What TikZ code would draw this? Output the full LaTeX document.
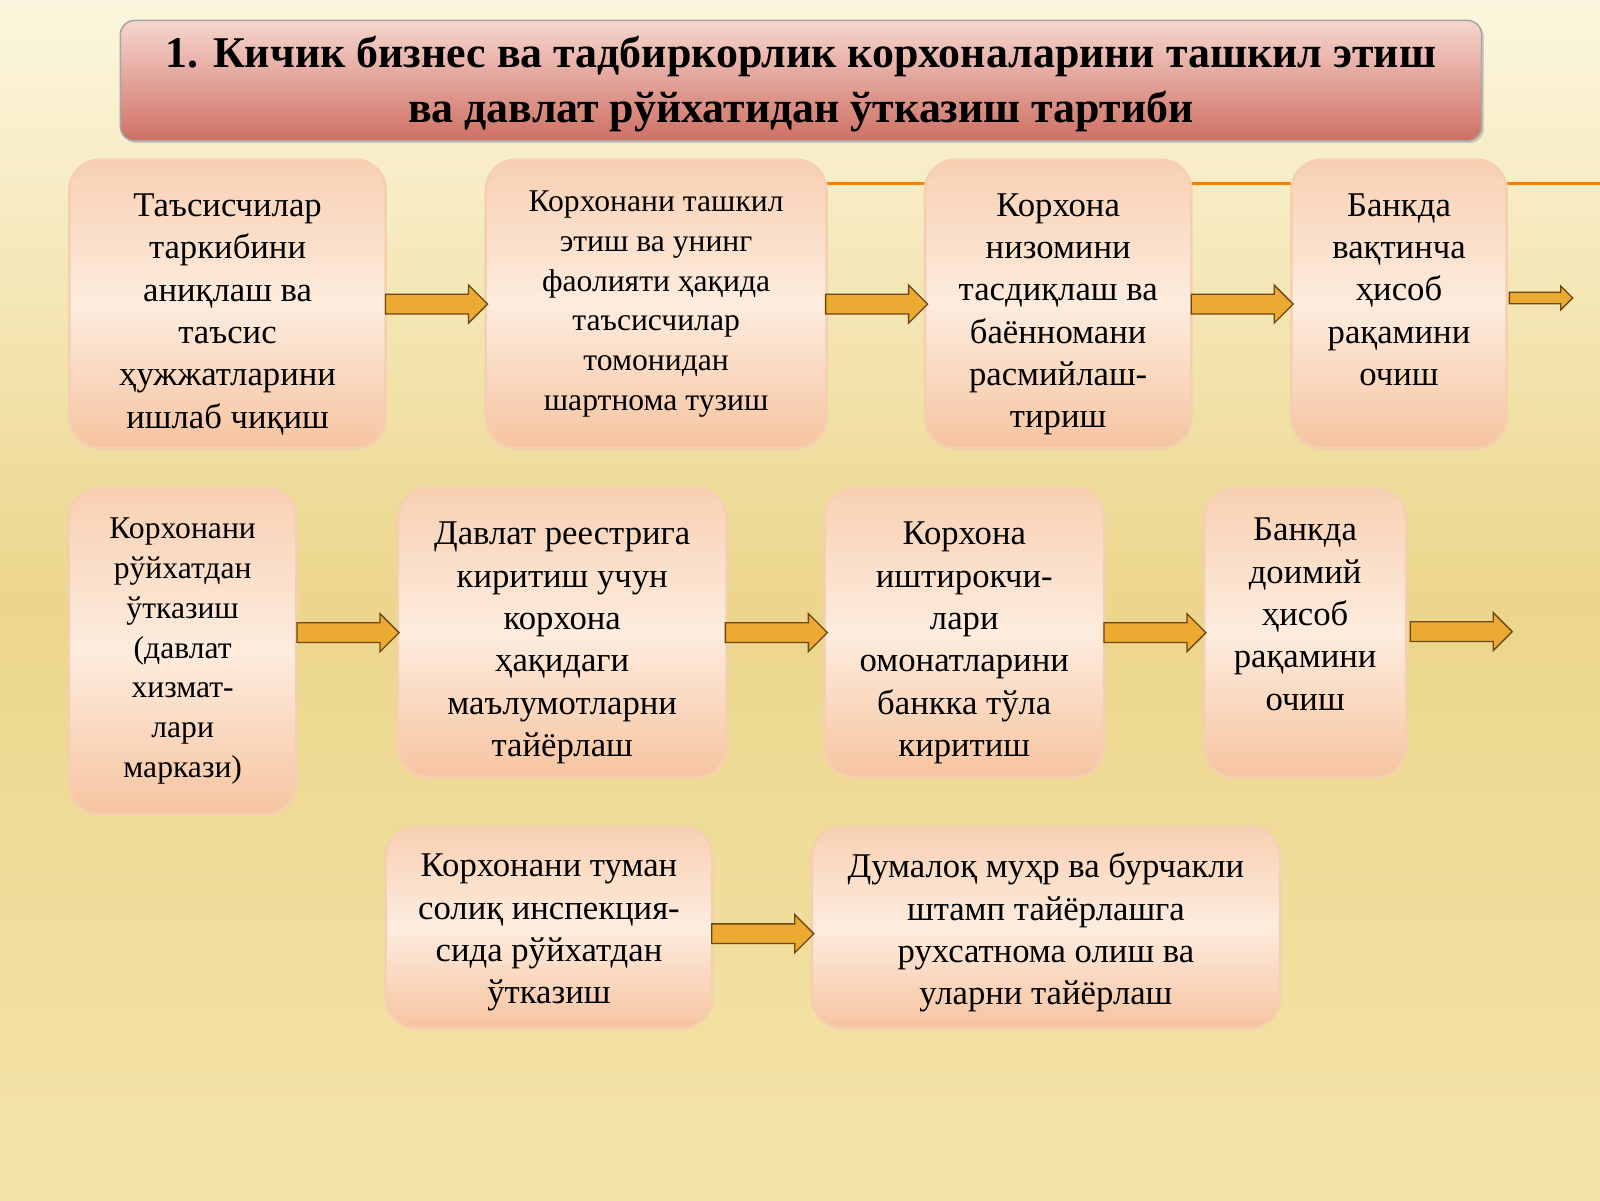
\documentclass[tikz,border=0pt]{standalone}
\usepackage{fontspec}
\setmainfont{Liberation Serif}
\usetikzlibrary{shapes.arrows,calc,shadows}
\definecolor{bgA}{RGB}{252,246,222}
\definecolor{bgB}{RGB}{236,214,140}
\definecolor{bgC}{RGB}{244,228,170}
\definecolor{bxA}{RGB}{253,236,222}
\definecolor{bxB}{RGB}{246,196,160}
\definecolor{bxE}{RGB}{244,208,176}
\definecolor{tA}{RGB}{246,214,206}
\definecolor{tB}{RGB}{206,112,100}
\definecolor{arF}{RGB}{236,170,50}
\definecolor{arD}{RGB}{110,70,20}
\begin{document}
\begin{tikzpicture}[x=1pt,y=-1pt,
 box/.style={draw=bxE, line width=2.5pt, rounded corners=30pt, top color=bxB!70!bxA, bottom color=bxB, middle color=bxA, inner sep=0pt},
 txt/.style={align=center, font=\fontsize{34}{41.5}\selectfont, inner sep=0pt},
 stxt/.style={txt, font=\fontsize{31}{39}\selectfont},
 arr/.style={single arrow, draw=arD, fill=arF, line width=1.3pt, inner xsep=0pt, inner ysep=9pt, single arrow head extend=9pt, minimum height=100pt, anchor=center}]
\useasboundingbox (0,0) rectangle (1568,1176);
\shade[top color=bgA, bottom color=bgC, middle color=bgB] (0,0) rectangle (1568,1176);
\draw[orange, line width=2.5pt] (810,180) -- (1568,180);
% title
\node[draw=black!35, line width=1.5pt, rounded corners=14pt, top color=tA, bottom color=tB, minimum width=1334pt, minimum height=118pt, drop shadow={opacity=0.3}] (t) at (785,79) {};
\node[txt, font=\bfseries\fontsize{43}{54}\selectfont] at ($(t)+(0,3)$) {1. Кичик бизнес ва тадбиркорлик корхоналарини ташкил этиш\\ва давлат рўйхатидан ўтказиш тартиби};
% row 1
\node[box, minimum width=310pt, minimum height=283pt] (b1) at (223,298) {};
\node[txt] at ($(b1)+(0,10)$) {Таъсисчилар\\таркибини\\аниқлаш ва\\таъсис\\ҳужжатларини\\ишлаб чиқиш};
\node[box, minimum width=334pt, minimum height=283pt] (b2) at (643,298) {};
\node[stxt] at ($(b2)+(0,0)$) {Корхонани ташкил\\этиш ва унинг\\фаолияти ҳақида\\таъсисчилар\\томонидан\\шартнома тузиш};
\node[box, minimum width=261pt, minimum height=283pt] (b3) at (1037,298) {};
\node[txt] at ($(b3)+(0,10)$) {Корхона\\низомини\\тасдиқлаш ва\\баённомани\\расмийлаш-\\тириш};
\node[box, minimum width=211pt, minimum height=283pt] (b4) at (1371,298) {};
\node[txt] at ($(b4)+(0,-14)$) {Банкда\\вақтинча\\ҳисоб\\рақамини\\очиш};
\coordinate (e1) at (1537,292);
% row 2
\node[box, minimum width=223pt, minimum height=320pt] (b5) at (179,638) {};
\node[stxt] at (b5) {Корхонани\\рўйхатдан\\ўтказиш\\(давлат\\хизмат-\\лари\\маркази)};
\node[box, minimum width=322pt, minimum height=284pt] (b6) at (551,620) {};
\node[txt] at ($(b6)+(0,10)$) {Давлат реестрига\\киритиш учун\\корхона\\ҳақидаги\\маълумотларни\\тайёрлаш};
\node[box, minimum width=274pt, minimum height=284pt] (b7) at (945,620) {};
\node[txt] at ($(b7)+(0,10)$) {Корхона\\иштирокчи-\\лари\\омонатларини\\банкка тўла\\киритиш};
\node[box, minimum width=198pt, minimum height=284pt] (b8) at (1279,620) {};
\node[txt] at ($(b8)+(0,-18)$) {Банкда\\доимий\\ҳисоб\\рақамини\\очиш};
\coordinate (e2) at (1475,618);
% row 3
\node[box, minimum width=320pt, minimum height=198pt] (b9) at (538,909) {};
\node[txt] at ($(b9)+(0,5)$) {Корхонани туман\\солиқ инспекция-\\сида рўйхатдан\\ўтказиш};
\node[box, minimum width=459pt, minimum height=198pt] (b10) at (1025,909) {};
\node[txt] at ($(b10)+(0,5)$) {Думалоқ муҳр ва бурчакли\\штамп тайёрлашга\\рухсатнома олиш ва\\уларни тайёрлаш};
% arrows
\node[arr] at ($(b1.east)!0.5!(b2.west)+(-4,0)$) {};
\node[arr] at ($(b2.east)!0.5!(b3.west)+(-4,0)$) {};
\node[arr] at ($(b3.east)!0.5!(b4.west)+(-4,0)$) {};
\node[arr, minimum height=62pt, inner ysep=5pt, single arrow head extend=6pt] at ($(b4.east |- e1)!0.5!(e1)$) {};
\node[arr] at ($(b5.east |- b6.west)!0.5!(b6.west)+(-4,0)$) {};
\node[arr] at ($(b6.east)!0.5!(b7.west)+(-4,0)$) {};
\node[arr] at ($(b7.east)!0.5!(b8.west)+(-4,0)$) {};
\node[arr] at ($(b8.east)!0.5!(e2)$) {};
\node[arr] at ($(b9.east)!0.5!(b10.west)+(-4,6)$) {};
\end{tikzpicture}
\end{document}
